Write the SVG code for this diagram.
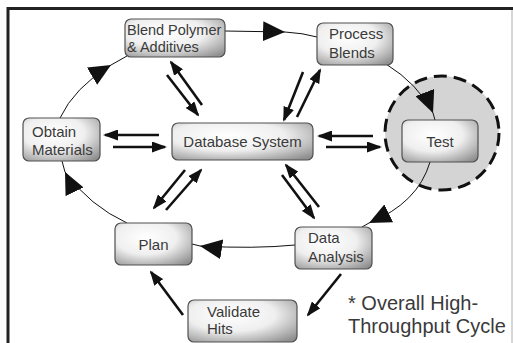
<svg xmlns="http://www.w3.org/2000/svg" width="513" height="343" viewBox="0 0 513 343">
<style>
.box{stroke:#505050;stroke-width:1.2;fill:url(#g)}
.t{font-family:"Liberation Sans",Arial,sans-serif;font-size:15px;fill:#3a3a3a}
.cyc{fill:none;stroke:#111;stroke-width:1;marker-mid:url(#big)}
.dbl{fill:none;stroke:#111;stroke-width:2.6;marker-end:url(#sm)}
</style>
<defs>
<radialGradient id="g" cx="0.4" cy="0.35" r="0.8">
<stop offset="0" stop-color="#ffffff"/>
<stop offset="0.5" stop-color="#efefef"/>
<stop offset="1" stop-color="#909090"/>
</radialGradient>
<marker id="big" viewBox="0 0 22 20" markerWidth="22" markerHeight="20" refX="22" refY="10" orient="auto" markerUnits="userSpaceOnUse">
<path d="M0,0 L22,10 L0,20 z" fill="#111"/>
</marker>
<marker id="sm" viewBox="0 0 15 11" markerWidth="15" markerHeight="11" refX="13" refY="5.5" orient="auto" markerUnits="userSpaceOnUse">
<path d="M0,0 L15,5.5 L0,11 z" fill="#111"/>
</marker>
</defs>
<rect width="513" height="343" fill="#fff"/>
<g id="frame">
<line x1="7" y1="8.5" x2="513" y2="8.5" stroke="#222" stroke-width="3"/>
<line x1="8" y1="7" x2="8" y2="343" stroke="#222" stroke-width="3"/>
<line x1="512" y1="10" x2="512" y2="343" stroke="#c8c8c8" stroke-width="1.5"/>
</g>
<g id="highlight">
<circle cx="442" cy="133" r="57" fill="#d4d4d4" stroke="#111" stroke-width="3" stroke-dasharray="13 7"/>
</g>
<g id="connectors">
<path class="cyc" d="M225,31 L285,32 Q303,33 317,37"/>
<path class="cyc" d="M386,64 Q418,84 433,113 L435,120"/>
<path class="cyc" d="M430,162 Q418,203 369,223 L362,227"/>
<path class="cyc" d="M295,245 Q255,249 200,246 L192,244"/>
<path class="cyc" d="M127,223 Q90,206 65,172 L62,161"/>
<path class="cyc" d="M60,118 Q74,88 111,65 L127,56"/>
<line class="dbl" x1="202" y1="105" x2="171" y2="62"/>
<line class="dbl" x1="167" y1="75" x2="198" y2="115"/>
<line class="dbl" x1="159" y1="135" x2="105" y2="135"/>
<line class="dbl" x1="113" y1="147" x2="165" y2="147"/>
<line class="dbl" x1="303" y1="72" x2="284" y2="120"/>
<line class="dbl" x1="297" y1="117" x2="320" y2="70"/>
<line class="dbl" x1="373" y1="136" x2="319" y2="136"/>
<line class="dbl" x1="326" y1="147" x2="380" y2="147"/>
<line class="dbl" x1="185" y1="170" x2="154" y2="208"/>
<line class="dbl" x1="166" y1="210" x2="201" y2="170"/>
<line class="dbl" x1="319" y1="207" x2="286" y2="165"/>
<line class="dbl" x1="282" y1="175" x2="314" y2="218"/>
<line class="dbl" x1="341" y1="274" x2="308" y2="315"/>
<line class="dbl" x1="183" y1="315" x2="151" y2="272"/>
</g>
<g id="blend">
<rect class="box" x="125" y="19" width="100" height="38" rx="6"/>
<text class="t" x="127" y="35" style="font-size:14.5px">Blend Polymer</text>
<text class="t" x="127" y="52" style="font-size:14.5px">&amp; Additives</text>
</g>
<g id="process">
<rect class="box" x="317" y="23" width="76" height="42" rx="6"/>
<text class="t" x="329" y="39">Process</text>
<text class="t" x="329" y="58">Blends</text>
</g>
<g id="obtain">
<rect class="box" x="23" y="118" width="77" height="43" rx="6"/>
<text class="t" x="32" y="137">Obtain</text>
<text class="t" x="32" y="155">Materials</text>
</g>
<g id="database">
<rect class="box" x="172" y="123" width="141" height="37" rx="6"/>
<text class="t" x="242.5" y="147" text-anchor="middle">Database System</text>
</g>
<g id="test">
<rect class="box" x="402" y="120" width="76" height="42" rx="6"/>
<text class="t" x="440" y="147" text-anchor="middle">Test</text>
</g>
<g id="plan">
<rect class="box" x="115" y="223" width="77" height="42" rx="6"/>
<text class="t" x="153.5" y="250" text-anchor="middle">Plan</text>
</g>
<g id="analysis">
<rect class="box" x="295" y="227" width="77" height="42" rx="6"/>
<text class="t" x="308" y="243">Data</text>
<text class="t" x="308" y="262">Analysis</text>
</g>
<g id="validate">
<rect class="box" x="188" y="300" width="109" height="42" rx="6"/>
<text class="t" x="207" y="317">Validate</text>
<text class="t" x="207" y="334">Hits</text>
</g>
<g id="note">
<text class="t" x="348" y="310" style="font-size:20px">* Overall High-</text>
<text class="t" x="348" y="333" style="font-size:20px">Throughput Cycle</text>
</g>
</svg>
